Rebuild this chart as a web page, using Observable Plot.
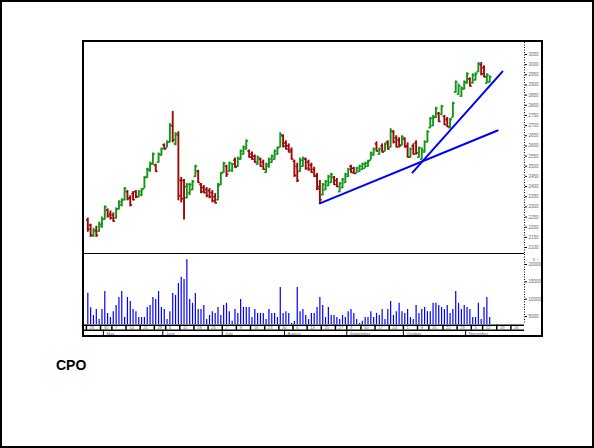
<!DOCTYPE html>
<html><head><meta charset="utf-8">
<script src="https://cdn.jsdelivr.net/npm/d3@7"></script>
<script src="https://cdn.jsdelivr.net/npm/@observablehq/plot@0.6"></script>
<style>
html,body{margin:0;padding:0;background:#fff;}
#page{position:relative;width:594px;height:448px;overflow:hidden;font-family:"Liberation Sans",Arial,sans-serif;background:#fff;}
#outer{position:absolute;left:0;top:0;width:594px;height:448px;box-sizing:border-box;border:2px solid #000;}
#frame{position:absolute;left:82px;top:40px;width:461px;height:297px;box-sizing:border-box;border:2px solid #000;}
#divider{position:absolute;left:84px;top:253px;width:440px;height:1px;background:#000;}
.panel{position:absolute;left:84px;}
#title{position:absolute;left:56px;top:358px;font-weight:bold;font-size:14px;line-height:14px;color:#000;}
</style></head><body>
<div id="page">
  <div id="outer"></div>
  <div id="price" class="panel" style="top:42px"></div>
  <div id="volume" class="panel" style="top:254px"></div>
  <div id="strip" class="panel" style="top:324px"></div>
  <div id="divider"></div>
  <div id="frame"></div>
  <div id="title">CPO</div>
</div>
<script>
// ---- data (trading days from 23 Apr 2007, index = trading-day number) ----
const open = [2235,2210,2160,2185,2180,2205,2240,2285,2265,2260,2245,2290,2310,2335,2375,2345,2365,2375,2350,2360,
2390,2445,2480,2510,2505,2520,2555,2605,2590,2620,2700,2610,2655,2430,2430,2345,2370,2385,2450,2475,
2410,2395,2385,2380,2370,2350,2335,2410,2470,2500,2475,2480,2530,2500,2535,2560,2585,2575,2560,2550,
2510,2535,2520,2470,2500,2520,2535,2560,2595,2650,2615,2600,2580,2525,2500,2475,2500,2535,2520,2505,
2485,2455,2400,2360,2385,2405,2420,2445,2430,2375,2395,2420,2450,2500,2490,2465,2475,2485,2490,2500,
2530,2555,2610,2560,2600,2575,2620,2595,2670,2640,2630,2605,2635,2600,2545,2600,2615,2545,2535,2570,
2620,2690,2700,2740,2760,2755,2745,2730,2690,2740,2865,2855,2845,2880,2910,2930,2910,2925,2965,3000,
2985,2910,2915];
const high = [2245,2215,2195,2205,2225,2250,2305,2290,2280,2270,2295,2330,2340,2395,2380,2355,2375,2380,2380,2390,
2450,2490,2520,2565,2510,2565,2590,2610,2625,2710,2770,2665,2670,2445,2435,2415,2415,2430,2505,2480,
2415,2405,2395,2390,2380,2365,2415,2470,2520,2505,2520,2515,2540,2545,2580,2600,2630,2580,2570,2555,
2550,2540,2530,2515,2540,2555,2580,2595,2665,2655,2625,2610,2590,2530,2515,2540,2545,2540,2530,2515,
2495,2465,2430,2415,2430,2455,2465,2450,2440,2420,2440,2465,2490,2505,2495,2495,2505,2515,2520,2530,
2570,2590,2620,2590,2610,2615,2625,2685,2675,2650,2640,2650,2640,2615,2590,2610,2625,2595,2590,2625,
2675,2740,2750,2790,2765,2800,2750,2740,2735,2815,2920,2905,2890,2920,2960,2935,2955,2960,3010,3010,
2995,2955,2945];
const low = [2175,2150,2150,2150,2175,2195,2235,2245,2235,2225,2240,2285,2300,2330,2330,2300,2330,2340,2345,2350,
2390,2440,2470,2505,2470,2515,2550,2580,2590,2615,2615,2600,2330,2320,2235,2340,2355,2380,2445,2415,
2365,2365,2345,2340,2320,2315,2330,2405,2465,2445,2470,2470,2490,2495,2530,2555,2580,2540,2530,2515,
2505,2495,2480,2465,2490,2515,2530,2555,2590,2590,2580,2565,2530,2445,2420,2470,2495,2480,2475,2465,
2445,2380,2315,2355,2380,2400,2415,2405,2395,2370,2390,2415,2445,2465,2460,2465,2470,2480,2490,2495,
2530,2550,2570,2555,2565,2570,2580,2590,2610,2590,2590,2600,2590,2540,2540,2555,2555,2540,2530,2565,
2615,2685,2695,2735,2715,2750,2700,2690,2685,2740,2860,2850,2840,2875,2905,2890,2905,2920,2960,2945,
2935,2905,2910];
const close = [2190,2160,2180,2160,2215,2240,2300,2255,2245,2230,2290,2325,2335,2390,2340,2310,2335,2350,2375,2385,
2445,2485,2515,2560,2475,2560,2585,2585,2620,2700,2630,2660,2355,2340,2400,2410,2410,2425,2500,2420,
2375,2370,2355,2350,2330,2320,2405,2465,2515,2460,2515,2510,2495,2540,2575,2595,2625,2545,2535,2520,
2545,2500,2485,2510,2535,2550,2575,2590,2655,2600,2585,2570,2535,2455,2430,2530,2540,2490,2485,2470,
2450,2390,2335,2410,2425,2450,2460,2410,2400,2415,2435,2460,2485,2470,2465,2490,2500,2510,2515,2525,
2565,2585,2575,2585,2570,2610,2585,2675,2620,2595,2600,2645,2595,2545,2585,2560,2565,2590,2580,2620,
2670,2735,2745,2785,2720,2795,2705,2695,2730,2810,2915,2895,2885,2915,2955,2895,2950,2955,3005,2955,
2940,2950,2940];
const volume = [11700,7500,5300,7000,4100,7000,12200,5900,4700,6400,8200,10500,12200,4700,10500,9300,7000,6400,4700,4700,
4700,7600,8200,10500,9900,12200,7600,7000,4100,6400,11600,11100,14500,16300,15700,21400,9900,8800,11600,7000,
7000,8200,4100,5300,6400,5900,7600,5300,8200,8800,6400,3600,7000,5900,9900,7600,7600,7600,4700,7000,
5900,5900,5900,4100,7000,5900,5900,4700,13400,5900,6400,5900,3000,3600,13400,6400,7000,5300,4100,5900,
5900,7600,10500,8200,4700,7600,5300,5300,4700,4100,5300,4700,6400,7000,5900,4100,3000,3600,4700,4700,
6400,4700,5900,5300,7000,4100,7000,9300,5300,6400,8800,6400,5900,7000,4700,4100,8200,5900,7000,7600,
6400,6400,8800,8800,8200,7600,7000,8200,5900,7000,12200,8800,7000,8200,7600,7000,4700,4700,8800,4100,
7600,10500,4700];

// trend lines (trading-day index, price)
const trend1Day = [82, 144.8];
const trend1Price = [2317, 2676];
const trend2Day = [114.7, 146.5];
const trend2Price = [2469, 2966];

// axis ticks and labels
const priceTicks = [2100,2150,2200,2250,2300,2350,2400,2450,2500,2550,2600,2650,2700,2750,2800,2850,2900,2950,3000,3050];
const volumeTicks = [5000,10000,15000,20000];
const weekIdx = [0,5,9,14,19,24,28,33,38,43,48,53,58,63,68,73,78,83,88,92,97,102,107,112,117,121,126,131,136,140,145,150];
const weekLabels = ["23","30","7","14","21","28","4","11","18","25","2","9","16","23","30","6","13","20","27","3","10","17","24","1","8","15","22","29","5","12","19","26"];
const monthIdx = [6,27,48,70,92,112,134];
const monthLabels = ["May","June","July","August","September","October","November"];

// ---- scales ----
const xDomain = [-1.17, 154.3];
const priceDomain = [2065.7, 3109];
const volDomain = [2693, 22883];
const GREEN = "#12961a", RED = "#9a0a0a", BLUE = "#0000ff";
const font = "Liberation Sans, Arial, sans-serif";

const days = d3.range(open.length).map(i => ({
  i, o: open[i], h: high[i], l: low[i], c: close[i], v: volume[i],
  col: close[i] >= open[i] ? GREEN : RED
}));
const t1 = trend1Day.map((d, k) => ({i: d, p: trend1Price[k]}));
const t2 = trend2Day.map((d, k) => ({i: d, p: trend2Price[k]}));

const common = {width: 457, marginLeft: 0, marginRight: 17, marginTop: 0, marginBottom: 0,
  style: {background: "transparent", fontFamily: font, overflow: "visible"}};

const priceChart = Plot.plot({
  ...common, height: 212,
  x: {domain: xDomain, axis: null},
  y: {domain: priceDomain, axis: null},
  marks: [
    Plot.ruleX([xDomain[1]], {stroke: "#000", strokeWidth: 1, strokeDasharray: "1,1.5"}),
    Plot.axisY(priceTicks, {anchor: "right", tickSize: 2, tickPadding: 2, fontSize: 4.5, fill: "#666", stroke: "#000", tickFormat: d => String(d)}),
    Plot.ruleX(days, {x: "i", y1: "l", y2: "h", stroke: "col", strokeWidth: 1.9}),
    Plot.link(days, {x1: d => d.i - 0.65, x2: "i", y1: "o", y2: "o", stroke: "col", strokeWidth: 1.6}),
    Plot.link(days, {x1: "i", x2: d => d.i + 0.65, y1: "c", y2: "c", stroke: "col", strokeWidth: 1.6}),
    Plot.line(t1, {x: "i", y: "p", stroke: BLUE, strokeWidth: 2}),
    Plot.line(t2, {x: "i", y: "p", stroke: BLUE, strokeWidth: 2})
  ]
});
document.getElementById("price").appendChild(priceChart);

const volChart = Plot.plot({
  ...common, height: 70,
  x: {domain: xDomain, axis: null},
  y: {domain: volDomain, axis: null},
  marks: [
    Plot.ruleX([xDomain[1]], {stroke: "#000", strokeWidth: 1, strokeDasharray: "1,1.5"}),
    Plot.axisY(volumeTicks, {anchor: "right", tickSize: 2, tickPadding: 2, fontSize: 4.5, fill: "#666", stroke: "#000", tickFormat: d => String(d)}),
    Plot.ruleX(days, {x: "i", y1: volDomain[0], y2: "v", stroke: BLUE, strokeWidth: 1.2})
  ]
});
document.getElementById("volume").appendChild(volChart);

const stripChart = Plot.plot({
  ...common, height: 12,
  x: {domain: xDomain, axis: null},
  y: {domain: [0, 12], range: [0, 12], axis: null},
  marks: [
    Plot.ruleY([0.75], {stroke: "#000", strokeWidth: 1.5}),
    Plot.ruleY([5.75], {stroke: "#000", strokeWidth: 1.5}),
    Plot.ruleX(weekIdx, {x: d => d - 0.5, y1: 0.75, y2: 5.75, stroke: "#000", strokeWidth: 1.5}),
    Plot.ruleX(monthIdx, {x: d => d - 0.5, y1: 5.75, y2: 12, stroke: "#000", strokeWidth: 1}),
    Plot.text(weekLabels, {x: (d, k) => weekIdx[k] + 0.6, y: 3.4, text: d => d, fontSize: 4.2, textAnchor: "start", fill: "#666"}),
    Plot.text(monthLabels, {x: (d, k) => monthIdx[k] + 0.6, y: 8.8, text: d => d, fontSize: 4.2, textAnchor: "start", fill: "#666"})
  ]
});
document.getElementById("strip").appendChild(stripChart);
</script>
</body></html>
